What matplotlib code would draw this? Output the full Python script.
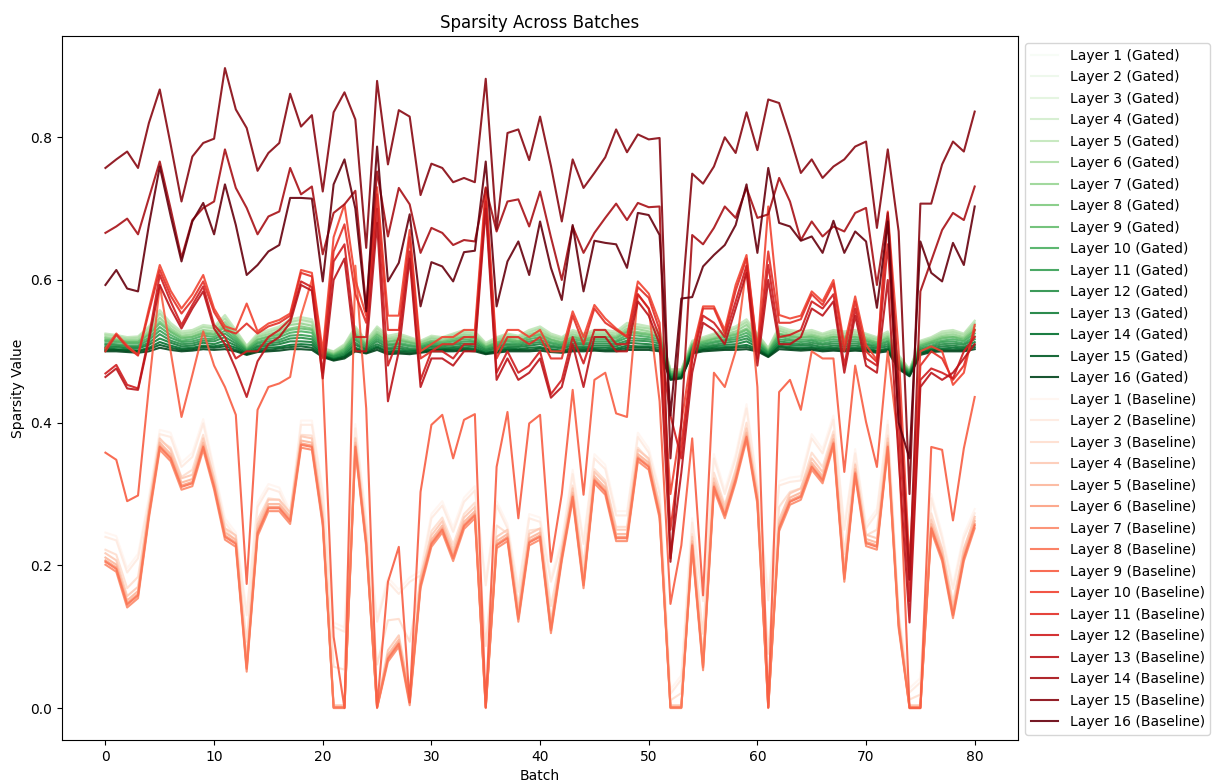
import numpy as np
import matplotlib
matplotlib.use("Agg")
import matplotlib.pyplot as plt

batches = np.arange(81)

# gated model, layers 1..16
g01 = [0.515,0.514,0.512,0.512,0.521,0.537,0.525,0.517,0.518,0.523,0.522,0.532,0.518,0.503,0.515,0.518,0.521,0.528,0.530,0.528,0.500,0.495,0.502,0.521,0.508,0.522,0.512,0.514,0.510,0.508,0.513,0.512,0.515,0.518,0.517,0.506,0.511,0.515,0.513,0.518,0.521,0.515,0.511,0.518,0.515,0.518,0.518,0.517,0.525,0.524,0.522,0.518,0.469,0.470,0.508,0.512,0.515,0.519,0.522,0.528,0.515,0.500,0.522,0.519,0.517,0.519,0.515,0.518,0.517,0.518,0.515,0.511,0.517,0.487,0.471,0.507,0.512,0.517,0.518,0.515,0.527]
g02 = [0.519,0.517,0.515,0.515,0.526,0.545,0.531,0.521,0.523,0.529,0.527,0.539,0.523,0.505,0.519,0.523,0.527,0.535,0.537,0.534,0.502,0.497,0.505,0.526,0.511,0.527,0.516,0.518,0.514,0.511,0.517,0.515,0.519,0.523,0.521,0.508,0.515,0.519,0.517,0.523,0.527,0.519,0.515,0.523,0.519,0.523,0.523,0.521,0.531,0.529,0.527,0.523,0.471,0.472,0.511,0.515,0.519,0.523,0.527,0.535,0.519,0.502,0.527,0.523,0.521,0.523,0.519,0.523,0.521,0.523,0.519,0.515,0.521,0.490,0.473,0.510,0.515,0.521,0.523,0.519,0.533]
g03 = [0.521,0.520,0.517,0.518,0.530,0.550,0.534,0.524,0.526,0.532,0.530,0.544,0.526,0.506,0.521,0.526,0.530,0.539,0.541,0.539,0.503,0.498,0.507,0.530,0.512,0.530,0.518,0.521,0.516,0.512,0.519,0.517,0.521,0.526,0.524,0.510,0.517,0.521,0.519,0.526,0.530,0.521,0.517,0.526,0.521,0.526,0.526,0.524,0.534,0.533,0.530,0.526,0.473,0.473,0.512,0.517,0.521,0.526,0.530,0.539,0.521,0.503,0.530,0.526,0.524,0.526,0.521,0.526,0.524,0.526,0.521,0.517,0.524,0.492,0.474,0.512,0.517,0.524,0.526,0.521,0.537]
g04 = [0.524,0.522,0.519,0.520,0.533,0.555,0.538,0.527,0.529,0.535,0.533,0.549,0.529,0.507,0.524,0.529,0.533,0.543,0.546,0.543,0.504,0.499,0.509,0.533,0.514,0.533,0.521,0.524,0.519,0.514,0.521,0.519,0.524,0.529,0.527,0.511,0.519,0.524,0.521,0.529,0.533,0.524,0.519,0.529,0.524,0.529,0.529,0.527,0.538,0.536,0.533,0.529,0.474,0.474,0.514,0.519,0.524,0.529,0.533,0.543,0.524,0.504,0.533,0.529,0.527,0.529,0.524,0.529,0.527,0.529,0.524,0.519,0.527,0.494,0.475,0.514,0.519,0.527,0.529,0.524,0.541]
g05 = [0.525,0.523,0.520,0.521,0.535,0.558,0.540,0.528,0.530,0.537,0.535,0.551,0.530,0.508,0.525,0.530,0.535,0.545,0.548,0.545,0.505,0.500,0.510,0.535,0.515,0.535,0.522,0.525,0.520,0.515,0.522,0.520,0.525,0.530,0.528,0.512,0.520,0.525,0.522,0.530,0.535,0.525,0.520,0.530,0.525,0.530,0.530,0.528,0.540,0.538,0.535,0.530,0.475,0.475,0.515,0.520,0.525,0.530,0.535,0.545,0.525,0.505,0.535,0.530,0.528,0.530,0.525,0.530,0.528,0.530,0.525,0.520,0.528,0.495,0.475,0.515,0.520,0.528,0.530,0.525,0.543]
g06 = [0.523,0.521,0.518,0.519,0.532,0.553,0.536,0.525,0.527,0.534,0.532,0.546,0.527,0.507,0.522,0.527,0.532,0.541,0.544,0.541,0.504,0.499,0.508,0.532,0.513,0.532,0.519,0.522,0.518,0.513,0.520,0.518,0.523,0.527,0.525,0.510,0.518,0.523,0.520,0.527,0.532,0.522,0.518,0.527,0.523,0.527,0.527,0.525,0.536,0.534,0.532,0.527,0.474,0.474,0.513,0.518,0.523,0.527,0.532,0.541,0.523,0.504,0.532,0.527,0.525,0.527,0.523,0.527,0.525,0.527,0.523,0.518,0.525,0.493,0.474,0.513,0.518,0.525,0.527,0.523,0.539]
g07 = [0.520,0.518,0.516,0.516,0.528,0.547,0.532,0.522,0.524,0.530,0.528,0.541,0.524,0.505,0.520,0.524,0.528,0.537,0.539,0.536,0.502,0.497,0.506,0.528,0.511,0.528,0.517,0.519,0.515,0.512,0.518,0.516,0.520,0.524,0.522,0.509,0.516,0.520,0.518,0.524,0.528,0.520,0.516,0.524,0.520,0.524,0.524,0.522,0.532,0.531,0.528,0.524,0.472,0.472,0.511,0.516,0.520,0.524,0.528,0.537,0.520,0.502,0.529,0.524,0.523,0.524,0.520,0.524,0.522,0.524,0.520,0.516,0.522,0.491,0.473,0.511,0.516,0.522,0.524,0.520,0.535]
g08 = [0.518,0.516,0.514,0.514,0.525,0.542,0.529,0.520,0.521,0.527,0.525,0.537,0.521,0.504,0.517,0.521,0.525,0.532,0.535,0.532,0.501,0.496,0.504,0.525,0.510,0.525,0.514,0.517,0.513,0.510,0.515,0.514,0.518,0.521,0.520,0.507,0.513,0.518,0.515,0.521,0.525,0.517,0.513,0.521,0.518,0.521,0.521,0.520,0.529,0.527,0.525,0.521,0.471,0.471,0.510,0.514,0.518,0.522,0.525,0.532,0.518,0.501,0.525,0.522,0.520,0.522,0.518,0.521,0.520,0.521,0.518,0.513,0.520,0.489,0.472,0.509,0.514,0.520,0.521,0.518,0.531]
g09 = [0.516,0.515,0.513,0.513,0.523,0.539,0.527,0.518,0.520,0.525,0.523,0.534,0.520,0.503,0.516,0.520,0.523,0.530,0.532,0.530,0.500,0.495,0.503,0.523,0.509,0.523,0.513,0.515,0.512,0.509,0.514,0.513,0.516,0.520,0.518,0.506,0.512,0.516,0.514,0.520,0.523,0.516,0.512,0.520,0.516,0.520,0.520,0.518,0.527,0.525,0.523,0.520,0.470,0.470,0.509,0.513,0.517,0.520,0.523,0.530,0.516,0.500,0.524,0.520,0.519,0.520,0.516,0.520,0.518,0.520,0.516,0.512,0.518,0.488,0.472,0.508,0.513,0.518,0.520,0.516,0.529]
g10 = [0.514,0.513,0.511,0.511,0.519,0.534,0.523,0.515,0.517,0.522,0.520,0.529,0.517,0.502,0.513,0.517,0.520,0.526,0.528,0.526,0.499,0.494,0.501,0.519,0.507,0.520,0.510,0.512,0.509,0.507,0.512,0.511,0.514,0.517,0.515,0.505,0.510,0.514,0.512,0.517,0.520,0.513,0.510,0.517,0.514,0.517,0.517,0.515,0.523,0.522,0.520,0.517,0.468,0.469,0.507,0.511,0.514,0.517,0.520,0.526,0.514,0.499,0.521,0.517,0.516,0.517,0.514,0.517,0.515,0.517,0.514,0.510,0.515,0.486,0.471,0.506,0.511,0.515,0.517,0.514,0.525]
g11 = [0.511,0.510,0.508,0.508,0.516,0.529,0.519,0.513,0.514,0.518,0.517,0.525,0.514,0.501,0.511,0.514,0.516,0.522,0.523,0.521,0.498,0.493,0.499,0.516,0.505,0.517,0.508,0.510,0.507,0.506,0.510,0.509,0.511,0.514,0.513,0.503,0.508,0.511,0.510,0.514,0.516,0.511,0.508,0.514,0.511,0.514,0.514,0.513,0.519,0.518,0.517,0.514,0.467,0.468,0.505,0.509,0.512,0.515,0.517,0.522,0.511,0.498,0.517,0.515,0.513,0.515,0.511,0.514,0.513,0.514,0.511,0.508,0.513,0.484,0.470,0.504,0.508,0.513,0.514,0.511,0.521]
g12 = [0.509,0.508,0.506,0.506,0.512,0.524,0.515,0.510,0.511,0.515,0.514,0.520,0.511,0.500,0.508,0.511,0.513,0.518,0.519,0.517,0.497,0.492,0.497,0.512,0.503,0.514,0.505,0.507,0.504,0.504,0.508,0.507,0.509,0.511,0.510,0.502,0.506,0.509,0.508,0.511,0.513,0.508,0.506,0.511,0.509,0.511,0.511,0.510,0.515,0.515,0.514,0.511,0.465,0.467,0.503,0.507,0.509,0.512,0.514,0.518,0.509,0.497,0.514,0.512,0.510,0.512,0.509,0.511,0.510,0.511,0.509,0.506,0.510,0.482,0.469,0.502,0.506,0.510,0.511,0.509,0.517]
g13 = [0.506,0.506,0.504,0.504,0.509,0.518,0.512,0.507,0.508,0.512,0.510,0.515,0.508,0.498,0.506,0.508,0.510,0.514,0.514,0.513,0.495,0.490,0.495,0.509,0.502,0.510,0.503,0.504,0.502,0.502,0.506,0.505,0.506,0.508,0.507,0.500,0.504,0.506,0.506,0.508,0.510,0.506,0.504,0.508,0.506,0.508,0.508,0.507,0.512,0.511,0.510,0.508,0.464,0.465,0.502,0.505,0.507,0.509,0.510,0.514,0.506,0.495,0.511,0.509,0.508,0.509,0.506,0.508,0.507,0.508,0.506,0.504,0.507,0.480,0.468,0.500,0.504,0.507,0.508,0.506,0.513]
g14 = [0.504,0.503,0.502,0.501,0.505,0.513,0.508,0.504,0.505,0.508,0.507,0.510,0.505,0.497,0.503,0.505,0.506,0.509,0.510,0.509,0.494,0.489,0.493,0.505,0.500,0.507,0.500,0.501,0.500,0.501,0.503,0.503,0.504,0.505,0.504,0.498,0.501,0.504,0.503,0.505,0.506,0.503,0.501,0.505,0.504,0.505,0.505,0.504,0.508,0.507,0.507,0.505,0.462,0.464,0.500,0.503,0.505,0.506,0.507,0.509,0.504,0.494,0.508,0.506,0.505,0.506,0.504,0.505,0.504,0.505,0.504,0.501,0.504,0.478,0.467,0.498,0.502,0.504,0.505,0.504,0.509]
g15 = [0.502,0.502,0.501,0.500,0.503,0.509,0.505,0.502,0.503,0.506,0.505,0.507,0.502,0.496,0.501,0.502,0.504,0.506,0.507,0.505,0.493,0.488,0.492,0.503,0.498,0.505,0.498,0.499,0.498,0.499,0.502,0.502,0.502,0.503,0.502,0.497,0.500,0.502,0.502,0.502,0.504,0.501,0.500,0.502,0.502,0.503,0.502,0.502,0.505,0.505,0.505,0.502,0.461,0.463,0.498,0.502,0.503,0.504,0.505,0.506,0.502,0.493,0.506,0.504,0.503,0.504,0.502,0.503,0.502,0.503,0.502,0.500,0.502,0.477,0.466,0.497,0.501,0.502,0.502,0.502,0.506]
g16 = [0.500,0.500,0.499,0.498,0.500,0.505,0.502,0.500,0.501,0.503,0.502,0.503,0.500,0.495,0.499,0.500,0.501,0.503,0.503,0.502,0.492,0.487,0.490,0.500,0.497,0.502,0.496,0.497,0.496,0.498,0.500,0.500,0.500,0.501,0.500,0.496,0.498,0.500,0.500,0.500,0.501,0.499,0.498,0.500,0.500,0.501,0.500,0.500,0.502,0.502,0.502,0.500,0.460,0.462,0.497,0.500,0.501,0.502,0.502,0.503,0.500,0.492,0.503,0.502,0.501,0.502,0.500,0.501,0.500,0.501,0.500,0.498,0.500,0.475,0.465,0.495,0.499,0.500,0.500,0.500,0.503]

# baseline model, layers 1..16
b01 = [0.246,0.241,0.196,0.216,0.296,0.390,0.386,0.344,0.358,0.405,0.336,0.266,0.246,0.136,0.288,0.314,0.309,0.276,0.403,0.403,0.306,0.120,0.113,0.398,0.266,0.127,0.183,0.166,0.183,0.192,0.272,0.290,0.253,0.295,0.311,0.178,0.290,0.258,0.169,0.272,0.267,0.183,0.236,0.334,0.236,0.356,0.341,0.276,0.276,0.386,0.364,0.306,0.026,0.046,0.266,0.156,0.356,0.306,0.356,0.426,0.316,0.157,0.318,0.323,0.325,0.384,0.363,0.410,0.256,0.363,0.258,0.279,0.403,0.136,0.028,0.042,0.300,0.244,0.173,0.244,0.279]
b02 = [0.240,0.235,0.190,0.210,0.290,0.384,0.380,0.338,0.352,0.399,0.330,0.260,0.240,0.130,0.282,0.308,0.303,0.270,0.397,0.397,0.300,0.114,0.107,0.392,0.260,0.121,0.177,0.160,0.177,0.186,0.266,0.284,0.247,0.289,0.305,0.172,0.284,0.252,0.163,0.266,0.261,0.177,0.230,0.328,0.230,0.350,0.335,0.270,0.270,0.380,0.358,0.300,0.020,0.040,0.260,0.150,0.350,0.300,0.350,0.420,0.310,0.151,0.312,0.317,0.319,0.378,0.357,0.404,0.250,0.357,0.252,0.273,0.397,0.130,0.022,0.036,0.294,0.238,0.167,0.238,0.273]
b03 = [0.222,0.215,0.168,0.184,0.280,0.375,0.365,0.324,0.334,0.383,0.320,0.250,0.235,0.093,0.264,0.294,0.292,0.266,0.383,0.382,0.280,0.058,0.054,0.379,0.245,0.061,0.123,0.125,0.093,0.179,0.248,0.267,0.229,0.272,0.288,0.087,0.256,0.245,0.144,0.249,0.251,0.143,0.220,0.312,0.201,0.335,0.319,0.254,0.254,0.365,0.348,0.285,0.011,0.021,0.244,0.104,0.330,0.285,0.335,0.400,0.300,0.076,0.282,0.303,0.308,0.358,0.338,0.388,0.216,0.343,0.242,0.250,0.382,0.123,0.012,0.019,0.273,0.224,0.149,0.224,0.265]
b04 = [0.217,0.207,0.157,0.170,0.282,0.378,0.362,0.322,0.327,0.378,0.322,0.252,0.242,0.067,0.257,0.292,0.292,0.274,0.381,0.378,0.272,0.004,0.004,0.378,0.242,0.004,0.081,0.102,0.020,0.184,0.242,0.262,0.222,0.267,0.282,0.004,0.240,0.250,0.137,0.244,0.252,0.121,0.222,0.308,0.184,0.331,0.315,0.250,0.250,0.362,0.350,0.282,0.004,0.004,0.240,0.069,0.322,0.282,0.332,0.392,0.302,0.004,0.264,0.301,0.308,0.350,0.331,0.383,0.193,0.341,0.243,0.238,0.378,0.128,0.004,0.004,0.264,0.222,0.142,0.222,0.268]
b05 = [0.211,0.201,0.151,0.164,0.276,0.372,0.356,0.316,0.321,0.372,0.316,0.246,0.236,0.061,0.251,0.286,0.286,0.268,0.375,0.372,0.266,0.002,0.002,0.372,0.236,0.002,0.075,0.096,0.014,0.178,0.236,0.256,0.216,0.261,0.276,0.002,0.234,0.244,0.131,0.238,0.246,0.115,0.216,0.302,0.178,0.325,0.309,0.244,0.244,0.356,0.344,0.276,0.002,0.002,0.234,0.063,0.316,0.276,0.326,0.386,0.296,0.002,0.258,0.295,0.302,0.344,0.325,0.377,0.187,0.335,0.237,0.232,0.372,0.122,0.002,0.002,0.258,0.216,0.136,0.216,0.262]
b06 = [0.207,0.197,0.147,0.160,0.272,0.368,0.352,0.312,0.317,0.368,0.312,0.242,0.232,0.057,0.247,0.282,0.282,0.264,0.371,0.368,0.262,0.001,0.001,0.368,0.232,0.001,0.071,0.092,0.010,0.174,0.232,0.252,0.212,0.257,0.272,0.001,0.230,0.240,0.127,0.234,0.242,0.111,0.212,0.298,0.174,0.321,0.305,0.240,0.240,0.352,0.340,0.272,0.001,0.001,0.230,0.059,0.312,0.272,0.322,0.382,0.292,0.001,0.254,0.291,0.298,0.340,0.321,0.373,0.183,0.331,0.233,0.228,0.368,0.118,0.001,0.001,0.254,0.212,0.132,0.212,0.258]
b07 = [0.201,0.191,0.141,0.154,0.266,0.362,0.346,0.306,0.311,0.362,0.306,0.236,0.226,0.051,0.241,0.276,0.276,0.258,0.365,0.362,0.256,0.000,0.000,0.362,0.226,0.000,0.065,0.086,0.004,0.168,0.226,0.246,0.206,0.251,0.266,0.000,0.224,0.234,0.121,0.228,0.236,0.105,0.206,0.292,0.168,0.315,0.299,0.234,0.234,0.346,0.334,0.266,0.000,0.000,0.224,0.053,0.306,0.266,0.316,0.376,0.286,0.000,0.248,0.285,0.292,0.334,0.315,0.367,0.177,0.325,0.227,0.222,0.362,0.112,0.000,0.000,0.248,0.206,0.126,0.206,0.252]
b08 = [0.205,0.195,0.145,0.158,0.270,0.366,0.350,0.310,0.315,0.366,0.310,0.240,0.230,0.055,0.245,0.280,0.280,0.262,0.369,0.366,0.260,0.001,0.001,0.366,0.230,0.001,0.069,0.090,0.008,0.172,0.230,0.250,0.210,0.255,0.270,0.001,0.228,0.238,0.125,0.232,0.240,0.109,0.210,0.296,0.172,0.319,0.303,0.238,0.238,0.350,0.338,0.270,0.001,0.001,0.228,0.057,0.310,0.270,0.320,0.380,0.290,0.001,0.252,0.289,0.296,0.338,0.319,0.371,0.181,0.329,0.231,0.226,0.366,0.116,0.001,0.001,0.252,0.210,0.130,0.210,0.256]
b09 = [0.358,0.348,0.290,0.298,0.450,0.593,0.500,0.408,0.467,0.528,0.480,0.450,0.411,0.174,0.418,0.450,0.455,0.464,0.550,0.600,0.460,0.100,0.000,0.620,0.420,0.001,0.177,0.226,0.008,0.303,0.397,0.411,0.350,0.404,0.412,0.001,0.338,0.415,0.266,0.399,0.411,0.205,0.300,0.446,0.299,0.460,0.470,0.413,0.408,0.580,0.560,0.430,0.146,0.228,0.378,0.158,0.470,0.450,0.500,0.620,0.450,0.001,0.443,0.460,0.418,0.500,0.490,0.490,0.331,0.480,0.401,0.338,0.500,0.370,0.000,0.000,0.366,0.362,0.263,0.364,0.436]
b10 = [0.504,0.525,0.508,0.495,0.560,0.621,0.585,0.560,0.580,0.607,0.560,0.535,0.530,0.567,0.528,0.539,0.544,0.553,0.614,0.610,0.500,0.660,0.706,0.600,0.550,0.730,0.550,0.550,0.670,0.500,0.510,0.520,0.520,0.530,0.530,0.730,0.500,0.530,0.530,0.520,0.530,0.500,0.500,0.556,0.520,0.565,0.546,0.532,0.521,0.598,0.581,0.540,0.300,0.400,0.500,0.563,0.563,0.530,0.593,0.635,0.502,0.703,0.551,0.546,0.550,0.584,0.570,0.600,0.509,0.577,0.509,0.488,0.696,0.500,0.200,0.500,0.507,0.500,0.453,0.470,0.537]
b11 = [0.500,0.523,0.506,0.494,0.555,0.614,0.578,0.553,0.572,0.598,0.555,0.530,0.525,0.539,0.525,0.535,0.540,0.550,0.610,0.605,0.490,0.640,0.678,0.580,0.540,0.720,0.530,0.530,0.660,0.490,0.500,0.510,0.510,0.520,0.520,0.720,0.490,0.520,0.520,0.510,0.520,0.490,0.490,0.550,0.510,0.560,0.540,0.530,0.520,0.590,0.575,0.530,0.250,0.370,0.490,0.560,0.560,0.525,0.585,0.630,0.500,0.640,0.540,0.540,0.545,0.580,0.565,0.595,0.500,0.570,0.500,0.485,0.690,0.450,0.180,0.480,0.500,0.490,0.460,0.480,0.530]
b12 = [0.469,0.481,0.453,0.448,0.520,0.607,0.570,0.537,0.565,0.591,0.537,0.520,0.490,0.500,0.500,0.520,0.530,0.545,0.598,0.590,0.470,0.626,0.650,0.520,0.520,0.700,0.480,0.520,0.640,0.460,0.500,0.500,0.490,0.510,0.510,0.710,0.470,0.500,0.470,0.480,0.500,0.440,0.460,0.520,0.483,0.530,0.530,0.510,0.510,0.580,0.560,0.520,0.410,0.350,0.488,0.550,0.540,0.520,0.570,0.620,0.490,0.621,0.520,0.523,0.530,0.570,0.560,0.580,0.480,0.560,0.490,0.480,0.650,0.400,0.150,0.460,0.476,0.470,0.462,0.500,0.520]
b13 = [0.464,0.476,0.448,0.446,0.515,0.593,0.560,0.532,0.560,0.584,0.532,0.510,0.475,0.436,0.486,0.510,0.520,0.540,0.593,0.585,0.462,0.600,0.630,0.500,0.500,0.680,0.430,0.500,0.630,0.450,0.490,0.490,0.480,0.500,0.500,0.700,0.460,0.490,0.460,0.470,0.490,0.435,0.450,0.510,0.450,0.520,0.520,0.500,0.500,0.570,0.550,0.510,0.210,0.330,0.470,0.540,0.530,0.510,0.560,0.610,0.480,0.600,0.510,0.510,0.520,0.560,0.550,0.570,0.470,0.550,0.480,0.470,0.600,0.350,0.120,0.450,0.470,0.460,0.470,0.490,0.510]
b14 = [0.666,0.675,0.686,0.664,0.715,0.766,0.700,0.631,0.684,0.701,0.710,0.783,0.729,0.701,0.664,0.689,0.696,0.757,0.720,0.731,0.636,0.694,0.706,0.725,0.560,0.752,0.661,0.729,0.706,0.638,0.673,0.666,0.649,0.656,0.654,0.729,0.668,0.710,0.713,0.675,0.724,0.660,0.600,0.675,0.638,0.666,0.687,0.707,0.684,0.708,0.702,0.703,0.205,0.400,0.663,0.650,0.673,0.703,0.687,0.729,0.687,0.692,0.743,0.710,0.656,0.682,0.661,0.675,0.668,0.694,0.701,0.593,0.694,0.450,0.180,0.584,0.627,0.670,0.694,0.684,0.731]
b15 = [0.757,0.769,0.780,0.757,0.820,0.867,0.790,0.710,0.773,0.792,0.798,0.897,0.839,0.813,0.753,0.778,0.792,0.861,0.815,0.831,0.724,0.835,0.863,0.825,0.645,0.879,0.762,0.838,0.829,0.719,0.763,0.757,0.737,0.743,0.737,0.882,0.671,0.806,0.811,0.768,0.829,0.760,0.682,0.769,0.729,0.750,0.772,0.811,0.779,0.804,0.797,0.799,0.350,0.560,0.749,0.735,0.759,0.800,0.778,0.835,0.782,0.853,0.848,0.801,0.750,0.769,0.743,0.759,0.769,0.787,0.794,0.673,0.783,0.668,0.300,0.707,0.707,0.762,0.794,0.780,0.836]
b16 = [0.593,0.614,0.588,0.584,0.677,0.759,0.690,0.626,0.682,0.708,0.664,0.734,0.677,0.607,0.621,0.640,0.649,0.715,0.715,0.714,0.598,0.734,0.769,0.700,0.556,0.787,0.598,0.624,0.692,0.563,0.625,0.619,0.598,0.639,0.641,0.766,0.563,0.626,0.654,0.607,0.682,0.617,0.572,0.677,0.584,0.655,0.652,0.650,0.617,0.694,0.691,0.663,0.410,0.574,0.576,0.619,0.635,0.649,0.677,0.734,0.638,0.757,0.680,0.675,0.655,0.661,0.638,0.683,0.638,0.668,0.654,0.561,0.682,0.400,0.350,0.654,0.610,0.598,0.652,0.621,0.703]

gated = [g01, g02, g03, g04, g05, g06, g07, g08, g09, g10, g11, g12, g13, g14, g15, g16]
baseline = [b01, b02, b03, b04, b05, b06, b07, b08, b09, b10, b11, b12, b13, b14, b15, b16]

greens = plt.cm.Greens(np.linspace(0, 1, len(gated)))
reds = plt.cm.Reds(np.linspace(0, 1, len(baseline)))

fig = plt.figure(figsize=(12.15, 7.84), dpi=100)
ax = fig.add_axes([0.051, 0.056, 0.787, 0.898])

for i, vals in enumerate(gated):
    ax.plot(batches, vals, color=greens[i], alpha=0.9, label=f'Layer {i+1} (Gated)')
for i, vals in enumerate(baseline):
    ax.plot(batches, vals, color=reds[i], alpha=0.9, label=f'Layer {i+1} (Baseline)')

ax.set_title('Sparsity Across Batches')
ax.set_xlabel('Batch')
ax.set_ylabel('Sparsity Value')
ax.legend(loc='upper left', bbox_to_anchor=(1.0, 1.0), labelspacing=0.54)

fig.savefig('out.png', dpi=100)
